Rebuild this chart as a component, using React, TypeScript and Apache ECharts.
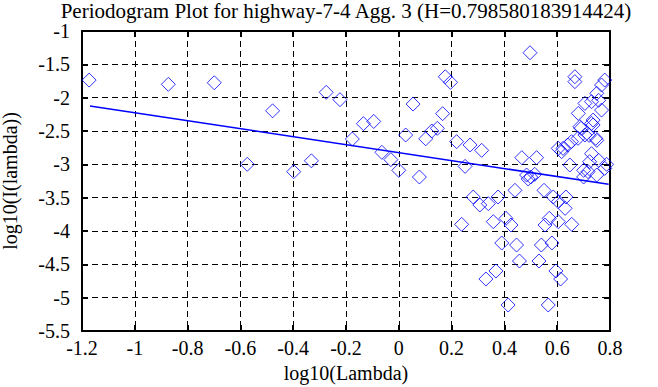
import React, { useEffect, useRef } from "react";
import * as echarts from "echarts";

const titleText = "Periodogram Plot for highway-7-4 Agg. 3 (H=0.798580183914424)";
const xName = "log10(Lambda)";
const yName = "log10(I(lambda))";

const logLambda: number[] = [
  -1.173, -0.873, -0.699, -0.574, -0.478, -0.398, -0.331, -0.275, -0.223, -0.176,
  -0.134, -0.095, -0.064, -0.03, 0.0, 0.026, 0.054, 0.078, 0.102, 0.125,
  0.146, 0.166, 0.176, 0.196, 0.219, 0.251, 0.27, 0.314, 0.238, 0.282,
  0.307, 0.339, 0.376, 0.33, 0.368, 0.358, 0.39, 0.406, 0.425, 0.414,
  0.44, 0.446, 0.457, 0.466, 0.497, 0.484, 0.5, 0.515, 0.49, 0.522,
  0.531, 0.54, 0.55, 0.554, 0.566, 0.57, 0.58, 0.585, 0.595, 0.604,
  0.604, 0.613, 0.633, 0.63, 0.655, 0.604, 0.622, 0.64, 0.654, 0.679,
  0.648, 0.667, 0.667, 0.78, 0.768, 0.75, 0.757, 0.73, 0.705, 0.768,
  0.68, 0.736, 0.73, 0.686, 0.736, 0.705, 0.75, 0.617, 0.73, 0.723,
  0.757, 0.78, 0.717, 0.75, 0.7, 0.7, 0.787, 0.721, 0.746, 0.69,
];
const logPower: number[] = [
  -1.736, -1.8, -1.776, -3.0, -2.197, -3.11, -2.947, -1.92, -2.03, -2.62,
  -2.39, -2.357, -2.82, -2.93, -3.09, -2.56, -2.096, -3.19, -2.617, -2.5,
  -2.46, -2.24, -1.686, -1.77, -2.66, -3.03, -2.71, -2.79, -3.9, -3.49,
  -3.61, -3.59, -3.49, -4.72, -4.6, -3.86, -4.18, -3.81, -3.91, -5.11,
  -3.39, -4.21, -4.45, -2.9, -1.326, -3.16, -3.19, -3.15, -3.22, -2.9,
  -4.45, -4.21, -3.39, -3.91, -5.11, -3.81, -4.18, -3.49, -4.6, -3.56,
  -3.86, -4.72, -3.49, -3.66, -3.9, -2.76, -2.76, -2.71, -2.66, -2.61,
  -3.01, -1.686, -1.76, -1.736, -1.81, -1.935, -2.04, -2.06, -2.086, -2.186,
  -2.236, -2.336, -2.386, -2.436, -2.41, -2.56, -2.64, -2.81, -2.84, -2.96,
  -2.94, -3.06, -3.11, -3.16, -3.09, -3.19, -3.0, -2.566, -2.61, -2.46,
];

const fitX: number[] = [-1.17, 0.795];
const fitY: number[] = [-2.125, -3.3];

const xTicks = { min: -1.2, max: 0.8, interval: 0.2 };
const yTicks = { min: -5.5, max: -1, interval: 0.5 };

const FONT = "'Liberation Serif', 'Times New Roman', serif";

export default function App() {
  const ref = useRef<HTMLDivElement>(null);
  useEffect(() => {
    if (!ref.current) return;
    const chart = echarts.init(ref.current, undefined, { renderer: "svg" });
    const fmt = (v: number) => String(Math.round(v * 10) / 10);
    const frameLine = { show: true, onZero: false, lineStyle: { color: "#000", width: 2 } };
    const tick = { show: true, inside: true, length: 6, lineStyle: { color: "#000", width: 2 } };
    const split = { show: true, lineStyle: { color: "#000", width: 1, type: [6, 4] as any } };
    const txt = { fontFamily: FONT, fontSize: 20, color: "#000" };
    chart.setOption({
      animation: false,
      backgroundColor: "#fff",
      title: {
        text: titleText,
        left: 346,
        textAlign: "center",
        top: 0,
        padding: 0,
        textStyle: { ...txt, fontSize: 21, lineHeight: 21, fontWeight: "normal" },
      },
      grid: {
        left: 82, right: 48, top: 31, bottom: 56,
        containLabel: false, outerBoundsMode: "none",
      },
      xAxis: [
        {
          type: "value", position: "bottom", ...xTicks,
          name: xName, nameLocation: "middle", nameGap: 32,
          nameTextStyle: txt,
          axisLine: frameLine, axisTick: tick, splitLine: split,
          axisLabel: { formatter: fmt, ...txt, margin: 7 },
        },
        {
          type: "value", position: "top", ...xTicks,
          axisLine: frameLine, axisTick: tick, splitLine: { show: false },
          axisLabel: { show: false },
        },
      ],
      yAxis: [
        {
          type: "value", position: "left", ...yTicks,
          name: yName, nameLocation: "middle", nameGap: 62,
          nameTextStyle: txt,
          axisLine: frameLine, axisTick: tick, splitLine: split,
          axisLabel: { formatter: fmt, ...txt, margin: 12 },
        },
        {
          type: "value", position: "right", ...yTicks,
          axisLine: frameLine, axisTick: tick, splitLine: { show: false },
          axisLabel: { show: false },
        },
      ],
      series: [
        {
          type: "scatter",
          symbol: "diamond",
          symbolSize: 14,
          data: logLambda.map((x, i) => [x, logPower[i]]),
          itemStyle: { color: "rgba(0,0,0,0)", borderColor: "#0000ff", borderWidth: 1 },
          z: 3,
        },
        {
          type: "line",
          data: fitX.map((x, i) => [x, fitY[i]]),
          showSymbol: false,
          lineStyle: { color: "#0000ff", width: 1.5 },
          z: 4,
        },
      ],
    });
    return () => chart.dispose();
  }, []);
  return (
    <div
      ref={ref}
      style={{ position: "fixed", left: 0, top: 0, width: 658, height: 387, background: "#fff" }}
    />
  );
}
